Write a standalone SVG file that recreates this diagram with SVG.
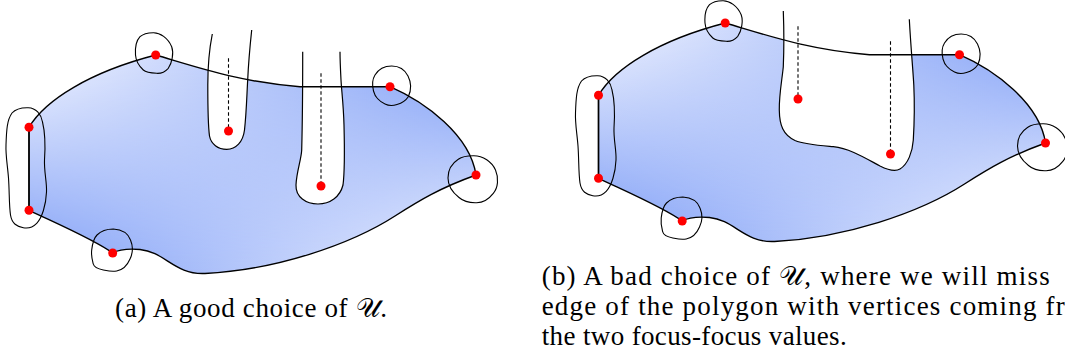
<svg xmlns="http://www.w3.org/2000/svg" xmlns:xlink="http://www.w3.org/1999/xlink" width="1065" height="358" viewBox="0 0 1065 358">
<style>
.bd{fill:none;stroke:#000;stroke-width:1.4;stroke-linejoin:round}
.nb{fill:none;stroke:#000;stroke-width:1.1}
.hole{fill:#fff;stroke:#000;stroke-width:1.2}
.dash{stroke:#000;stroke-width:1.1;stroke-dasharray:3.5 2.5;fill:none}
.dot{fill:#ff0000}
.cap{font-family:"Liberation Serif","DejaVu Serif",serif;font-size:27px;fill:#000}
</style>
<defs>
<linearGradient id="gTop" x1="0" y1="0" x2="1" y2="0">
<stop offset="0" stop-color="#f2f5ff"/>
<stop offset="1" stop-color="#7c9cf6"/>
</linearGradient>
<linearGradient id="gBot" x1="0" y1="0" x2="1" y2="0">
<stop offset="0" stop-color="#7c9cf6"/>
<stop offset="1" stop-color="#f2f5ff"/>
</linearGradient>
<linearGradient id="gV" x1="0" y1="0" x2="0" y2="1">
<stop offset="0" stop-color="#000"/>
<stop offset="1" stop-color="#fff"/>
</linearGradient>
<mask id="mV" maskContentUnits="objectBoundingBox">
<rect x="0" y="0" width="1" height="1" fill="url(#gV)"/>
</mask>
<path id="outline" d="M29,127.3 C45,100 90,72 155.7,55 C200,68 240,82 300,86.7 L390,86.7 C425,102 470,135 476,175 C440,188 420,200 395,216 C350,245 275,270 205,273.5 C175,275 165,252 140,249.5 C128,248.5 120,249 112.7,253 C95,240 60,225 29,210.3 Z"/>
<g id="region">
<use xlink:href="#outline" href="#outline" fill="url(#gTop)"/>
<use xlink:href="#outline" href="#outline" fill="url(#gBot)" mask="url(#mV)"/>
</g>
<g id="lines">
<use xlink:href="#outline" href="#outline" class="bd"/>
<path class="nb" d="M153.3,32.7 C160,32.5 168,38 171.7,46.7 C174,53 172,63 168.3,68.3 C164,73 160,73.5 156.7,73.3 C150,73 146,72.5 143.3,70 C139,66 136,62 135.5,55 C135,48 136,41 140,36.7 C144,33 148,32.8 153.3,32.7 Z"/>
<path class="nb" d="M28.3,107.7 C36,108 41,114 42.5,122 C44.5,130 45.5,145 44.5,160 C44,172 47,182 46.5,192 C46,205 42,218 36.7,223.3 C32,228 27,228.5 23.3,227.7 C17,226.5 12,224 10.5,215 C9,205 9.5,192 8.5,178 C7.5,165 5.5,155 6,145 C6.5,130 7,120 12,113 C16,108.5 22,107.5 28.3,107.7 Z"/>
<path class="nb" d="M113.3,229 C121,229.5 128,233 130.5,240 C133,246 133,253 130,259 C127,266 122,270 116.7,271 C111,272 106,270.5 103.3,270 C98,269 94,267 93.3,264 C92,259 91,256 91.7,250 C92.5,243 94,238 97,235 C101,231 107,229 113.3,229 Z"/>
<path class="nb" d="M391.7,66 C399,66 405,70 408,76 C411,82 411.5,90 408.3,96.7 C405.5,101 402,103 397,104.5 C393,105.8 389,106 385,104 C380,102 375,97 373.5,91 C372,85 372.5,79 375,75 C378,70 384,66 391.7,66 Z"/>
<path class="nb" d="M473.3,155.7 C483,155.5 492,162 495.5,170 C499,178 498,188 493.3,193.3 C488,200 482,202.7 476.7,202.7 C469,203 463,201 459,197.5 C452,192 448,186 448,178 C448,170 451,164 458.3,159.3 C462,156.5 467,155.7 473.3,155.7 Z"/>
<path class="bd" d="M29,127.3 L29,210.3"/>
<path class="dash" d="M228.5,58.3 V131"/>
<path class="dash" d="M321,73.3 V186"/>
<circle class="dot" cx="155.7" cy="55" r="4.5"/>
<circle class="dot" cx="29" cy="127.3" r="4.5"/>
<circle class="dot" cx="29" cy="210.3" r="4.5"/>
<circle class="dot" cx="112.7" cy="253" r="4.5"/>
<circle class="dot" cx="476" cy="175" r="4.5"/>
<circle class="dot" cx="390" cy="86.7" r="4.5"/>
<circle class="dot" cx="228.5" cy="131" r="4.5"/>
<circle class="dot" cx="321" cy="186" r="4.5"/>
</g>
</defs>
<g id="figure-a">
<use xlink:href="#region" href="#region"/>
<path class="hole" d="M212.3,34 C209.5,48 207.8,62 207.8,85 C207.8,105 208,125 209.5,136 C211,144 218,149.3 226.7,149.3 C236,149.3 243,142 244.5,130 C246.5,112 246.8,95 247.7,80 C248.5,62 250,46 251.7,30"/>
<path class="hole" d="M302.7,51.7 C302.7,80 302.5,120 301.7,150 C301.2,160 296.5,172 296,185 C295.5,197 306,204 318,204 C330,204 340,197 343,185 C345,170 344.5,145 344,125 C343.5,105 341.5,90 341,80 C340.5,70 340,60 340,51.7"/>
<use xlink:href="#lines" href="#lines"/>
</g>
<g id="figure-b">
<use xlink:href="#region" href="#region" transform="translate(569.5,-32)"/>
<path class="hole" d="M783.3,11 C784,30 784,50 783.3,66.7 C782,80 779,95 779.3,110 C779.5,125 783,135 795,140.5 C805,144.5 820,145.5 833.3,146.7 C850,148.5 865,158 880,166 C888,170 895,172 900,169 C908,164 912.5,152 913.3,140 C914.5,120 914.5,100 913.8,85 C913,70 911,50 909.3,19.3"/>
<use xlink:href="#lines" href="#lines" transform="translate(569.5,-32)"/>
</g>
<g id="captions">
<text class="cap" x="115" y="317" textLength="272" lengthAdjust="spacing">(a) A good choice of 𝒰.</text>
<text class="cap" x="541.7" y="285" textLength="508" lengthAdjust="spacing">(b) A bad choice of 𝒰, where we will miss</text>
<text class="cap" x="541.7" y="315" textLength="523" lengthAdjust="spacing">edge of the polygon with vertices coming fr</text>
<text class="cap" x="541.7" y="345" textLength="305" lengthAdjust="spacing">the two focus-focus values.</text>
</g>
</svg>
